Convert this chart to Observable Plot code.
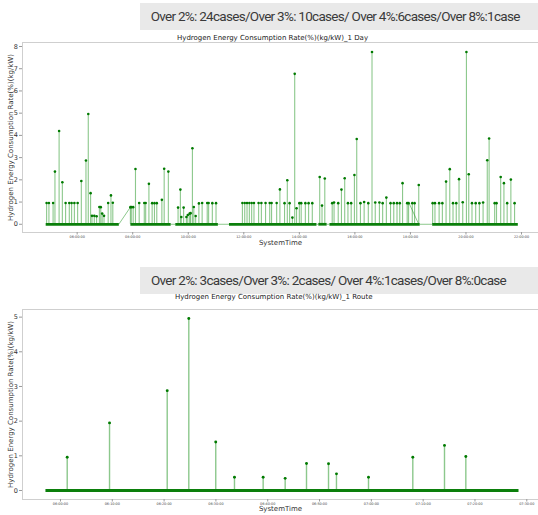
<!DOCTYPE html>
<html><head><meta charset="utf-8">
<script src="https://cdn.jsdelivr.net/npm/d3@7"></script>
<script src="https://cdn.jsdelivr.net/npm/@observablehq/plot@0.6"></script>
<style>
html,body{margin:0;padding:0;background:#fff;}
body{width:538px;height:515px;position:relative;overflow:hidden;font-family:"DejaVu Sans",sans-serif;}
.banner{position:absolute;left:140px;width:398px;background:#e9e9e9;}
.banner span{position:absolute;white-space:nowrap;font-family:Roboto,"Noto Sans",sans-serif;font-size:13.5px;color:#3a3a3a;line-height:1;}
.title{position:absolute;font-size:7px;color:#222;white-space:nowrap;transform:translate(-50%,-50%);font-family:"DejaVu Sans",sans-serif;}
.chart{position:absolute;left:0;}
.chart svg{background:transparent;}
</style></head><body>
<div id="c1" class="chart" style="top:30px"></div>
<div id="c2" class="chart" style="top:300px"></div>
<div class="banner" style="top:3px;height:27px"><span id="t1" style="left:10.7px;top:6.5px"></span></div>
<div class="banner" style="top:267px;height:27px"><span id="t2" style="left:11px;top:6.5px"></span></div>
<div class="title" id="h1" style="left:272.5px;top:37.5px"></div>
<div class="title" id="h2" style="left:273.7px;top:296.7px"></div>
<script>
// ---------- data: 1 Day ----------
const dayBanner = "Over 2%: 24cases/Over 3%: 10cases/ Over 4%:6cases/Over 8%:1case";
const dayTitle = "Hydrogen Energy Consumption Rate(%)(kg/kW)_1 Day";
const dayXTicks = ["06:00:00","08:00:00","10:00:00","12:00:00","14:00:00","16:00:00","18:00:00","20:00:00","22:00:00"];
const dayYTicks = [0,1,2,3,4,5,6,7,8];
const dayBaseStart = ["04:52","07:55","09:32","11:28","14:41","15:05","18:47"];
const dayBaseEnd   = ["07:30","09:22","11:04","14:37","14:59","18:20","21:52"];
const dayLinkFrom    = ["07:30","09:22","11:04","14:37","14:59","17:57","18:20"];
const dayLinkFromVal = [0,0,0,0,0,0.95,0];
const dayLinkTo      = ["07:55","09:32","11:28","14:41","15:05","18:18","18:47"];
const dayLinkToVal   = [0.77,0,0,0,0,0,0];
const daySpikeTime = ["04:54","04:59","05:08","05:12","05:21","05:28","05:35","05:43","05:48","05:54",
  "06:01","06:09","06:19","06:24","06:29","06:32","06:37","06:42","06:48","06:51","06:54","06:58","07:07","07:13","07:17",
  "07:55","07:57","08:01","08:06","08:14","08:25","08:28","08:35","08:42","08:47","08:52","09:03","09:08","09:17",
  "09:38","09:43","09:45","09:50","09:56","09:59","10:03","10:05","10:09","10:12","10:16","10:23","10:30","10:41","10:44","10:52","11:00",
  "11:57","12:02","12:07","12:12","12:17","12:22","12:32","12:38","12:47","12:56","13:00","13:11","13:18","13:28","13:34","13:39","13:45","13:50","13:54","14:00","14:04","14:13","14:20","14:28",
  "14:44","14:49","14:55",
  "15:11","15:15","15:24","15:31","15:38","15:45","15:52","15:59","16:04","16:12","16:20","16:29","16:37","16:44","16:53","17:00","17:08","17:17","17:24","17:31","17:37","17:43","17:53","17:56","18:04","18:09","18:18",
  "18:48","18:53","19:02","19:09","19:17","19:25","19:32","19:39","19:45","19:53","20:01","20:06","20:13","20:21","20:29","20:37","20:46","20:50","21:02","21:06","21:15","21:22","21:29","21:37","21:45"];
const daySpikeValue = [0.96,0.96,0.96,2.37,4.2,1.89,0.96,0.96,0.96,0.96,
  0.96,1.95,2.87,4.96,1.4,0.38,0.38,0.36,0.78,0.77,0.48,0.38,0.96,1.3,0.97,
  0.77,0.77,0.77,2.49,0.96,0.96,0.96,1.82,0.95,0.95,0.95,1.1,2.5,2.37,
  0.75,1.56,0.33,0.75,0.33,0.42,0.48,0.5,3.42,0.78,0.37,0.94,0.96,0.96,0.96,0.95,0.95,
  0.96,0.96,0.96,0.96,0.96,0.96,0.96,0.96,0.96,0.96,0.96,0.96,1.57,0.95,1.98,0.95,0.3,6.77,0.72,0.95,0.95,0.95,0.95,0.95,
  2.13,0.84,2.06,
  0.95,0.98,0.95,1.56,2.07,0.95,0.95,2.22,3.84,0.95,1.0,0.95,7.75,0.98,0.98,0.95,1.2,0.95,0.95,0.95,0.95,1.85,0.95,0.95,0.95,0.95,1.77,
  0.95,0.95,0.95,0.95,1.92,2.48,0.95,0.95,2.03,0.99,7.75,2.25,0.95,0.95,0.95,0.98,2.88,3.86,0.95,0.95,2.13,1.85,0.95,2.01,0.95];

// ---------- data: 1 Route ----------
const routeBanner = "Over 2%: 3cases/Over 3%: 2cases/ Over 4%:1cases/Over 8%:0case";
const routeTitle = "Hydrogen Energy Consumption Rate(%)(kg/kW)_1 Route";
const routeXTicks = ["06:00:00","06:10:00","06:20:00","06:30:00","06:40:00","06:50:00","07:00:00","07:10:00","07:20:00","07:30:00"];
const routeYTicks = [0,1,2,3,4,5];
const routeBaseStart = ["05:57:06"];
const routeBaseEnd   = ["07:28:24"];
const routeSpikeTime = ["06:01:18","06:09:28","06:20:36","06:24:46","06:29:58","06:33:35","06:39:07","06:43:22","06:47:29","06:51:44","06:53:16","06:59:27","07:08:00","07:14:07","07:18:14"];
const routeSpikeValue = [0.96,1.95,2.88,4.96,1.40,0.38,0.38,0.35,0.78,0.77,0.48,0.38,0.96,1.30,0.98];

const yLabel = "Hydrogen Energy Consumption Rate(%)(kg/kW)";
const xLabel = "SystemTime";

// ---------- texts ----------
function fitText(id, text, target) {
  const el = document.getElementById(id);
  el.textContent = text;
  const w = el.getBoundingClientRect().width;
  el.style.letterSpacing = ((target - w) / text.length).toFixed(3) + "px";
}
fitText("t1", dayBanner, 369);
fitText("t2", routeBanner, 355);
document.getElementById("h1").textContent = dayTitle;
document.getElementById("h2").textContent = routeTitle;

// ---------- helpers ----------
const toMin = s => { const p = s.split(":").map(Number); return p[0]*60 + p[1] + (p[2]||0)/60; };

function makeChart({height, mt, mb, xDomain, yDomain, xTicks, yTicks, baseStart, baseEnd, links, spikeTime, spikeValue, baseW, dotR, stemW, xLabOff}) {
  const segs = baseStart.map((s,i) => ({s: toMin(s), e: toMin(baseEnd[i])}));
  const spikes = spikeTime.map((t,i) => ({t: toMin(t), v: spikeValue[i]}));
  const tickMap = new Map(xTicks.map(t => [toMin(t), t]));
  return Plot.plot({
    width: 538, height,
    marginLeft: 22, marginRight: 0, marginTop: mt, marginBottom: mb,
    style: {background: "transparent", fontFamily: "DejaVu Sans, sans-serif"},
    x: {domain: xDomain, label: null},
    y: {domain: yDomain, label: null},
    marks: [
      Plot.frame({stroke: "#cfcfcf"}),
      Plot.axisY({ticks: yTicks, tickFormat: d => String(d), tickSize: 3, tickPadding: 1.5, fontSize: 6.5, stroke: "#999", fill: "#333", label: null}),
      Plot.axisX({ticks: [...tickMap.keys()], tickFormat: d => tickMap.get(d), tickSize: 2.5, tickPadding: 1, fontSize: 3.4, stroke: "#999", fill: "#444", label: null}),
      Plot.link(links, {x1: "x1", y1: "y1", x2: "x2", y2: "y2", stroke: "#2e9b2e", strokeOpacity: 0.55, strokeWidth: 1}),
      Plot.ruleX(spikes, {x: "t", y1: 0, y2: "v", stroke: "#1a911a", strokeOpacity: 0.5, strokeWidth: stemW}),
      Plot.link(segs, {x1: "s", x2: "e", y1: 0, y2: 0, stroke: "#0b7f0b", strokeWidth: baseW}),
      Plot.dot(spikes, {x: "t", y: "v", r: dotR, fill: "#007a00", stroke: "none"}),
      Plot.text([yLabel], {frameAnchor: "left", textAnchor: "middle", rotate: -90, dx: -12, fontSize: 7, fill: "#333"}),
      Plot.text([xLabel], {frameAnchor: "bottom", dy: xLabOff, fontSize: 7, fill: "#333"})
    ]
  });
}

const dayLinks = dayLinkFrom.map((f,i) => ({x1: toMin(f), y1: dayLinkFromVal[i], x2: toMin(dayLinkTo[i]), y2: dayLinkToVal[i]}));

document.getElementById("c1").append(makeChart({
  height: 222, mt: 12, mb: 20,
  xDomain: [241.9, 1356.7], yDomain: [-0.37, 8.18],
  xTicks: dayXTicks, yTicks: dayYTicks,
  baseStart: dayBaseStart, baseEnd: dayBaseEnd, links: dayLinks,
  spikeTime: daySpikeTime, spikeValue: daySpikeValue,
  baseW: 2.7, dotR: 1.3, stemW: 1.1, xLabOff: 12.3
}));

document.getElementById("c2").append(makeChart({
  height: 215, mt: 9, mb: 16,
  xDomain: [352.67, 452.26], yDomain: [-0.26, 5.22],
  xTicks: routeXTicks, yTicks: routeYTicks,
  baseStart: routeBaseStart, baseEnd: routeBaseEnd, links: [],
  spikeTime: routeSpikeTime, spikeValue: routeSpikeValue,
  baseW: 3, dotR: 1.45, stemW: 1.4, xLabOff: 11.5
}));
</script>
</body></html>
